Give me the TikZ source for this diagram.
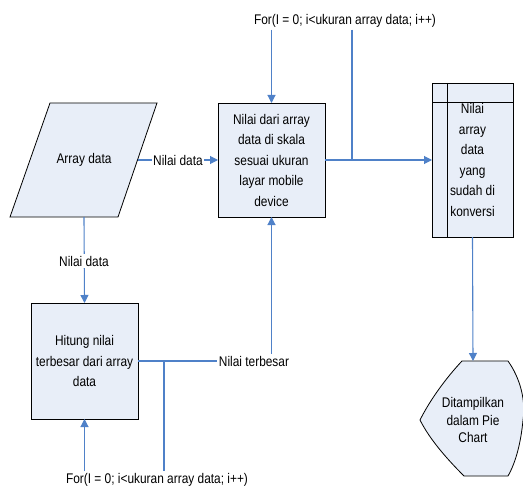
\documentclass[tikz,border=0pt]{standalone}
\usepackage{fontspec}
\setmainfont{Liberation Sans}[FakeStretch=0.85]
\usetikzlibrary{arrows.meta,calc}
\definecolor{flowblue}{HTML}{4F81C8}
\definecolor{boxfill}{HTML}{E8EEF8}
\begin{document}
\begin{tikzpicture}[x=1pt,y=-1pt,
  txt/.style={font=\fontsize{14}{20.5}\selectfont, align=center, inner sep=0pt},
  procbox/.style={txt, draw=black, line width=0.8pt, fill=boxfill, outer sep=0pt},
  conn/.style={draw=flowblue, line width=1.1pt},
  arrowconn/.style={conn, -{Triangle[length=8pt,width=8pt]}},
  lbl/.style={txt, fill=white, inner sep=1.5pt}
]
\useasboundingbox (0,0) rectangle (523,487);

% input data (parallelogram)
\draw[line width=0.8pt, fill=boxfill] (50,103) -- (157,103) -- (118,217) -- (10,217) -- cycle;
\node[txt] (arr) at (84,160) {Array data};
\coordinate (arrE) at (137.5,160);
\coordinate (arrS) at (84,217);

% processes
\node[procbox, minimum width=107pt, minimum height=114pt] (scale) at (271.5,160)
  {Nilai dari array\\data di skala\\sesuai ukuran\\layar mobile\\device};
\node[procbox, minimum width=107pt, minimum height=116pt] (max) at (84.5,361)
  {Hitung nilai\\terbesar dari array\\data};

% internal storage
\node[procbox, minimum width=81pt, minimum height=154pt] (store) at (472.5,160)
  {Nilai\\array\\data\\yang\\sudah di\\konversi};
\draw[line width=0.8pt] ([xshift=15pt]store.north west) -- ([xshift=15pt]store.south west);
\draw[line width=0.8pt] ([yshift=-19pt]store.north west) -- ([yshift=-19pt]store.north east);

% display
\draw[line width=0.8pt, fill=boxfill] (462,361) -- (508,361)
  .. controls (520,378) and (526,400) .. (523,420)
  .. controls (521,442) and (516,462) .. (508,476)
  -- (464,476)
  .. controls (448,460) and (430,440) .. (420,420)
  .. controls (430,400) and (446,378) .. (462,361) -- cycle;
\node[txt, font=\fontsize{14}{17.5}\selectfont] (show) at (473,420) {Ditampilkan\\dalam Pie\\Chart};
\coordinate (showN) at (473,361);

% loop labels
\node[txt, inner sep=2pt] (forTop) at (345,21) {For(I = 0; i<ukuran array data; i++)};
\node[txt, inner sep=2pt] (forBot) at (157,480) {For(I = 0; i<ukuran array data; i++)};

% connectors
\draw[arrowconn] (arrE) -- (scale.west);
\draw[arrowconn] (arrS) -- (max.north);
\draw[arrowconn] (forTop.south -| scale.north) -- (scale.north);
\draw[conn] (forTop.south -| 352,0) -- (352,160);
\draw[arrowconn] (scale.east) -- (store.west);
\draw[arrowconn] (store.south) -- (showN);
\draw[arrowconn] (max.east) -| (scale.south);
\draw[conn] (164,361) -- (forBot.north -| 164,0);
\draw[arrowconn] (forBot.north -| max.south) -- (max.south);

% connector labels
\node[lbl] (lblData1) at (178,160) {Nilai data};
\node[lbl] (lblData2) at (84,261) {Nilai data};
\node[lbl] (lblMax) at (254,361) {Nilai terbesar};
\end{tikzpicture}
\end{document}
